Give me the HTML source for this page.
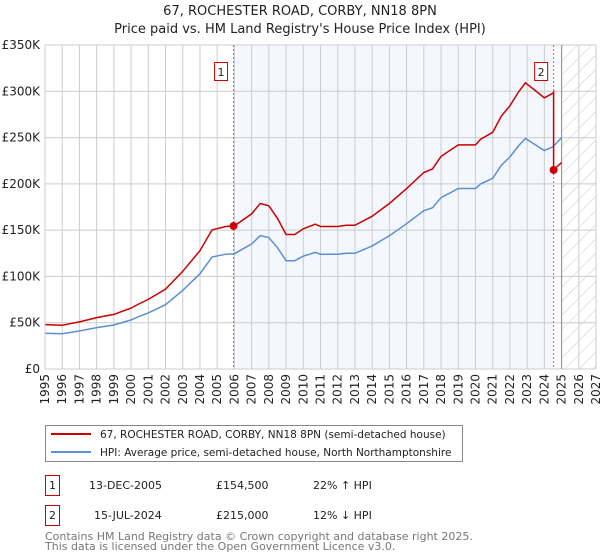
<!DOCTYPE html>
<html><head><meta charset="utf-8"><style>
body{margin:0;background:#fff;}
svg{display:block;font-family:"DejaVu Sans","Liberation Sans",sans-serif;}
</style></head><body>
<svg id="chart" width="600" height="560" viewBox="0 0 600 560" xmlns="http://www.w3.org/2000/svg">
<defs>
<pattern id="hatch" patternUnits="userSpaceOnUse" width="10" height="10" patternTransform="rotate(45)">
<line x1="0" y1="0" x2="0" y2="10" stroke="#c8c8c8" stroke-width="1"/>
</pattern>
</defs>
<text x="300" y="15" text-anchor="middle" font-size="13" fill="#222">67, ROCHESTER ROAD, CORBY, NN18 8PN</text>
<text x="300" y="33" text-anchor="middle" font-size="13" fill="#222">Price paid vs. HM Land Registry's House Price Index (HPI)</text>
<g id="plot"></g>
<g>
<rect x="45.5" y="425.5" width="417" height="36" fill="#fff" stroke="#888"/>
<line x1="51" y1="434" x2="91" y2="434" stroke="#cc0000" stroke-width="2"/>
<text x="100" y="438" font-size="10.5" fill="#222">67, ROCHESTER ROAD, CORBY, NN18 8PN (semi-detached house)</text>
<line x1="51" y1="452" x2="91" y2="452" stroke="#5b8fd4" stroke-width="2"/>
<text x="100" y="456" font-size="10.5" fill="#222">HPI: Average price, semi-detached house, North Northamptonshire</text>
</g>
<g font-size="11" fill="#222">
<rect x="45.5" y="475.5" width="14" height="20" fill="none" stroke="#cc0000"/>
<text x="52.5" y="489" text-anchor="middle">1</text>
<text x="89" y="489">13-DEC-2005</text>
<text x="216" y="489">£154,500</text>
<text x="313" y="489">22% ↑ HPI</text>
<rect x="45.5" y="505.5" width="14" height="20" fill="none" stroke="#cc0000"/>
<text x="52.5" y="519" text-anchor="middle">2</text>
<text x="94" y="519">15-JUL-2024</text>
<text x="216" y="519">£215,000</text>
<text x="313" y="519">12% ↓ HPI</text>
</g>
<text x="45" y="540" font-size="11" fill="#777">Contains HM Land Registry data © Crown copyright and database right 2025.</text>
<text x="45" y="550" font-size="11" fill="#777">This data is licensed under the Open Government Licence v3.0.</text>
</svg>
<script>
const hpiYears = [1995,1996,1997,1998,1999,2000,2000.5,2001,2002,2003,2004,2004.7,2005.5,2006,2007,2007.5,2008,2008.5,2009,2009.5,2010,2010.7,2011,2012,2012.5,2013,2014,2015,2016,2017,2017.5,2018,2019,2020,2020.3,2021,2021.5,2022,2022.5,2022.9,2023.5,2024,2024.5,2025];
const hpiValues = [38.6,38,41,44.7,47.5,53,57,60.6,69.5,85,103,121,124,124.5,135,144,142,131,117,117,122,126,124,124,125,125,133,144,157,171,174,185,195,195,200,206,220,229,241,249,242,236,240,250];
const saleYears = [2005.95,2024.54];
const salePrices = [154.5,215];
const yTicks = [0,50,100,150,200,250,300,350];
const yTickLabels = ['£0','£50K','£100K','£150K','£200K','£250K','£300K','£350K'];
const xTicks = [1995,1996,1997,1998,1999,2000,2001,2002,2003,2004,2005,2006,2007,2008,2009,2010,2011,2012,2013,2014,2015,2016,2017,2018,2019,2020,2021,2022,2023,2024,2025,2026,2027];

const NS='http://www.w3.org/2000/svg';
const X0=45,X1=596,Y0=369,Y1=45;
const xS=t=>X0+(t-1995)*(X1-X0)/32;
const yS=v=>Y0-v*(Y0-Y1)/350;
const plot=document.getElementById('plot');
function mk(tag,attrs){const e=document.createElementNS(NS,tag);for(const k in attrs)e.setAttribute(k,attrs[k]);plot.appendChild(e);return e;}
function hpiAt(t){
  if(t<=hpiYears[0])return hpiValues[0];
  for(let i=1;i<hpiYears.length;i++){if(t<=hpiYears[i]){const f=(t-hpiYears[i-1])/(hpiYears[i]-hpiYears[i-1]);return hpiValues[i-1]+f*(hpiValues[i]-hpiValues[i-1]);}}
  return hpiValues[hpiValues.length-1];
}
let r=mk('rect',{x:xS(saleYears[0]),y:Y1,width:xS(saleYears[1])-xS(saleYears[0]),height:Y0-Y1,fill:'#f4f7fd'});


r=mk('rect',{x:xS(2025),y:Y1,width:X1-xS(2025),height:Y0-Y1,fill:'url(#hatch)'});


xTicks.forEach(t=>{
  const l=mk('line',{x1:xS(t),x2:xS(t),y1:Y1,y2:Y0,stroke:'#cccccc','stroke-width':1});
  
  
  const tx=mk('text',{x:0,y:0,'font-size':12,fill:'#222','text-anchor':'end',transform:`translate(${xS(t)+4},${Y0+5}) rotate(-90)`});
  tx.textContent=t;
  
  
});
yTicks.forEach((v,i)=>{
  const l=mk('line',{x1:X0,x2:X1,y1:yS(v),y2:yS(v),stroke:'#cccccc','stroke-width':1});
  
  
  const tx=mk('text',{x:X0-5,y:yS(v)+4,'font-size':12,fill:'#222','text-anchor':'end'});
  tx.textContent=yTickLabels[i];
  
  
});
let l=mk('line',{x1:xS(2025),x2:xS(2025),y1:Y1,y2:Y0,stroke:'#999','stroke-width':1.2});


saleYears.forEach((s,i)=>{
  const d=mk('line',{x1:xS(s),x2:xS(s),y1:Y1,y2:Y0,stroke:'#ee5555','stroke-width':1,'stroke-dasharray':'2,2'});
  
  
  const b=mk('rect',{x:xS(s)-19,y:62.5,width:13,height:18,fill:'#fff',stroke:'#cc0000'});
  
  
  const t=mk('text',{x:xS(s)-12.5,y:76,'font-size':11,'text-anchor':'middle',fill:'#222'});
  t.textContent=String(i+1);
  
  
});
let p=hpiYears.map((t,i)=>(i?'L':'M')+xS(t).toFixed(1)+','+yS(hpiValues[i]).toFixed(1)).join('');
let hl=mk('path',{d:p,fill:'none',stroke:'#5b8fd4','stroke-width':1.5});


const r1=salePrices[0]/hpiAt(saleYears[0]);
const r2=salePrices[1]/hpiAt(saleYears[1]);
let pts=[];
hpiYears.forEach((t,i)=>{if(t<saleYears[1])pts.push([t,hpiValues[i]*r1]);});
pts.push([saleYears[1],hpiAt(saleYears[1])*r1]);
pts.push([saleYears[1],salePrices[1]]);
hpiYears.forEach((t,i)=>{if(t>saleYears[1])pts.push([t,hpiValues[i]*r2]);});
p=pts.map((q,i)=>(i?'L':'M')+xS(q[0]).toFixed(1)+','+yS(q[1]).toFixed(1)).join('');
let pl=mk('path',{d:p,fill:'none',stroke:'#cc0000','stroke-width':1.5});


saleYears.forEach((s,i)=>{
  const c=mk('circle',{cx:xS(s),cy:yS(salePrices[i]),r:4,fill:'#cc0000'});
  
  
});
l=mk('line',{x1:X0,x2:X0,y1:Y1,y2:Y0,stroke:'#ccc'});


</script>
</body></html>
